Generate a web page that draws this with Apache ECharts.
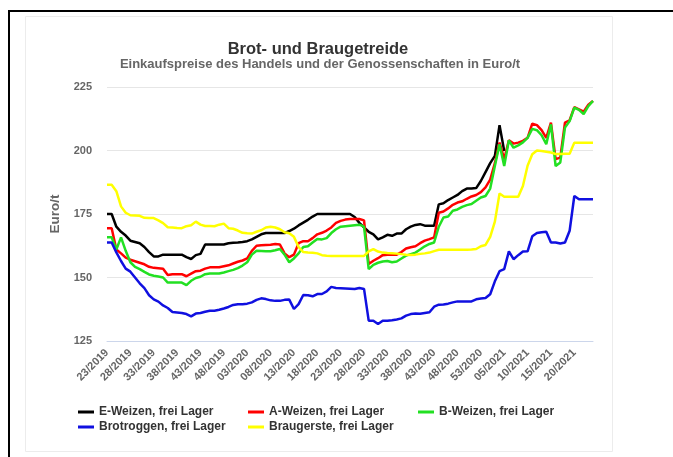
<!DOCTYPE html>
<html><head><meta charset="utf-8">
<script src="https://cdn.jsdelivr.net/npm/echarts@6/dist/echarts.min.js"></script>
<style>html,body{margin:0;padding:0;background:#fff;}#c{width:673px;height:457px;}</style>
</head><body><div id="c"></div>
<script>
const categories = [
"23/2019","24/2019","25/2019","26/2019","27/2019","28/2019","29/2019","30/2019","31/2019","32/2019",
"33/2019","34/2019","35/2019","36/2019","37/2019","38/2019","39/2019","40/2019","41/2019","42/2019",
"43/2019","44/2019","45/2019","46/2019","47/2019","48/2019","49/2019","50/2019","51/2019",
"02/2020","03/2020","04/2020","05/2020","06/2020","07/2020","08/2020","09/2020","10/2020","11/2020",
"12/2020","13/2020","14/2020","15/2020","16/2020","17/2020","18/2020","19/2020","20/2020","21/2020",
"22/2020","23/2020","24/2020","25/2020","26/2020","27/2020","28/2020","29/2020","30/2020","31/2020",
"32/2020","33/2020","34/2020","35/2020","36/2020","37/2020","38/2020","39/2020","40/2020","41/2020",
"42/2020","43/2020","44/2020","45/2020","46/2020","47/2020","48/2020","49/2020","50/2020","51/2020",
"52/2020","53/2020",
"01/2021","02/2021","03/2021","04/2021","05/2021","06/2021","07/2021","08/2021","09/2021","10/2021",
"11/2021","12/2021","13/2021","14/2021","15/2021","16/2021","17/2021","18/2021","19/2021","20/2021",
"21/2021","22/2021","23/2021","24/2021"];

const eWeizen = [
175,175,170,168,166.5,164.5,164,163.5,162,160,
158.3,158.3,159,159,159,159,159,158,157.3,158.8,
159.3,163,163,163,163,163,163.5,163.7,163.8,164,
164.3,165,166,167,167.5,167.5,167.5,167.5,167.5,168.3,
169.2,170.5,171.6,172.7,174,175,175,175,175,175,
175,175,175,173.8,171.5,169.7,168,167,165,165.8,
166.8,166.4,167.3,167.3,169,170,170.7,171,170.4,170.4,
170.4,178.8,179.2,180.5,181.5,182.5,184,185,185,185.2,
188,191.5,195,197.9,210,199.8,
null,null,null,null,null,null,null,null,null,null,
null,null,null,null,null,null,null,null,null];

const aWeizen = [
169.4,169.4,161,159.5,157.8,157,156.4,155.8,155.2,154.2,
153.8,153.6,153.4,151,151.3,151.3,151.3,150.5,151.5,152.5,
152.7,153.5,154,154,154,154.4,154.8,155.5,156.2,156.7,
157.5,160.5,162.5,162.7,162.8,162.9,163.2,163,159.5,158,
159,163.5,164.3,164.3,165.5,167,167.6,168.5,169.7,171.5,
172.3,172.8,173,173,173,172.5,155.3,156.6,157.6,158.8,
159,159,159,160,161.4,161.9,162.3,163.5,164.5,165.1,
165.8,175.5,176,177.2,178.6,179.5,180,181,181.9,182.5,
183.6,185.5,188.5,195,203.1,196.6,204,202.7,203.1,203.8,
205,210.6,210,208,205,211,196.6,197.2,211,211.9,
217.1,216.2,215.3,218,219.5];

const bWeizen = [
165.8,165.8,161,165.8,160.5,156,154.2,153.3,152.2,151.2,
150.7,150.4,150,148,148,148,148,147,148.7,149.8,
150.3,151.3,151.6,151.6,151.6,152,152.5,153,153.7,154.7,
156,159,160.5,160.4,160.3,160.3,160.7,161.2,159,156,
157.5,159.5,162,162.3,163.8,165.2,165,165.5,167.5,169,
170,170.2,170.4,170.6,170.8,170,153.3,155,155.8,156.3,
156.5,156,156.3,157.5,158.6,159.2,159.8,161,162.3,163.2,
163.8,170,173.6,174,176.3,176.8,177.8,178.5,178.9,180.2,
181.5,182.1,185,193.9,202.5,193.9,204,201.1,202,203.2,
205,208.5,208,206,202.5,210.3,193.9,195.3,209,211.6,
216.9,216,214.3,217.5,219.5];

const brotroggen = [
163.8,163.8,159.9,156.5,153.5,152.3,150,147.7,145.8,143,
141.4,140.5,139,138,136.4,136.2,136,135.6,134.7,135.8,
136,136.5,136.9,136.9,137.3,137.8,138.4,139.2,139.5,139.5,
139.7,140.2,141.2,141.8,141.5,141,140.8,140.8,141.2,141.3,
137.6,139.5,143.1,143,142.6,143.5,143.5,144.5,146.3,145.9,
145.8,145.7,145.6,145.5,145.9,145.5,133,133,131.7,133,
133,133.2,133.5,133.9,135,135.6,135.8,135.7,136,136.3,
138.5,139.3,139.4,139.7,140.2,140.6,140.6,140.6,140.6,141.4,
141.7,141.9,143.4,148.5,152.5,153.3,160.3,157.2,158.8,160.2,
160.3,166.2,167.5,167.8,168,163.8,163.8,163.4,163.8,168.4,
182.1,180.8,180.8,180.8,180.8];

const braugerste = [
186.5,186.5,184,178,175.5,174.5,174.4,174.3,173.5,173.4,
173.4,172.5,171.4,169.8,169.7,169.5,169.4,170.2,170.6,172,
170.8,170.3,170.3,170.2,170.8,171.2,169.4,169.2,168.5,167.6,
167.4,167.3,168,168.6,169.7,170,169.7,169,167.8,167.4,
166,162,160,159.8,159.7,159.5,158.8,158.6,158.5,158.5,
158.5,158.5,158.5,158.5,158.5,158.5,160.3,161.2,160.2,159.8,
159.6,159.5,159.4,159.2,159,158.9,159,159.3,159.5,159.8,
160.4,160.9,160.9,160.9,160.9,160.9,160.9,160.9,161,161.2,
162.3,162.8,166,172,183.1,181.8,181.8,181.8,181.8,186,
194,198.5,200,199.8,199.5,199.2,198.6,198.6,198.7,198.7,
203.1,203.1,203.1,203.1,203.1];

const yTicks = {min:125, max:225, step:25};
const titleText = 'Brot- und Braugetreide';
const subtitleText = 'Einkaufspreise des Handels und der Genossenschaften in Euro/t';
const yName = 'Euro/t';

const FONT = '"Liberation Sans", Arial, Helvetica, sans-serif';
const seriesDefs = [
  {name:'E-Weizen, frei Lager', data:eWeizen, color:'#000000', lx:78, ly:406},
  {name:'A-Weizen, frei Lager', data:aWeizen, color:'#ff0000', lx:248, ly:406},
  {name:'B-Weizen, frei Lager', data:bWeizen, color:'#22e022', lx:418, ly:406},
  {name:'Brotroggen, frei Lager', data:brotroggen, color:'#1010e0', lx:78, ly:421},
  {name:'Braugerste, frei Lager', data:braugerste, color:'#ffff00', lx:248, ly:421}
];

const chart = echarts.init(document.getElementById('c'), null, {renderer:'canvas'});
chart.setOption({
  animation:false,
  backgroundColor:'#ffffff',
  grid:{left:107, right:80, top:87, bottom:116},
  xAxis:{
    type:'category', data:categories, boundaryGap:false,
    axisLine:{lineStyle:{color:'#ccd6eb', width:1}},
    axisTick:{show:false},
    axisLabel:{interval:4, rotate:45, margin:10, color:'#666', fontSize:11, fontWeight:'bold', fontFamily:FONT}
  },
  yAxis:{
    type:'value', min:yTicks.min, max:yTicks.max, interval:yTicks.step,
    name:yName, nameLocation:'middle', nameGap:45,
    nameTextStyle:{color:'#666', fontSize:13.5, fontWeight:'bold', fontFamily:FONT},
    axisLine:{show:false}, axisTick:{show:false},
    axisLabel:{margin:15, color:'#666', fontSize:11, fontWeight:'bold', fontFamily:FONT},
    splitLine:{lineStyle:{color:'#e6e6e6', width:1}}
  },
  legend: seriesDefs.map(s => ({
    data:[s.name], left:s.lx, top:s.ly, icon:'rect', itemWidth:16, itemHeight:3,
    padding:0, itemGap:0, selectedMode:false,
    textStyle:{fontSize:12, fontWeight:'bold', color:'#333', fontFamily:FONT}
  })),
  graphic:[
    {type:'rect', silent:true, shape:{x:25.5, y:16.5, width:587, height:435}, style:{fill:'none', stroke:'#ececec', lineWidth:1}},
    {type:'rect', silent:true, shape:{x:8, y:10, width:665, height:2}, style:{fill:'#000'}},
    {type:'rect', silent:true, shape:{x:8, y:10, width:2, height:447}, style:{fill:'#000'}},
    {type:'text', silent:true, x:150.5, y:0.5, style:{text:'p', font:'bold 28px ' + FONT, fill:'#000', align:'left', verticalAlign:'bottom'}},
    {type:'text', silent:true, x:318, y:49, style:{text:titleText, font:'bold 16.5px ' + FONT, fill:'#333', align:'center', verticalAlign:'middle'}},
    {type:'text', silent:true, x:320, y:64.5, style:{text:subtitleText, font:'bold 13px ' + FONT, fill:'#666', align:'center', verticalAlign:'middle'}}
  ],
  series: seriesDefs.map(s => ({
    name:s.name, type:'line', data:s.data, color:s.color,
    showSymbol:false, symbol:'none', smooth:false,
    lineStyle:{width:2.5, color:s.color}
  }))
});
</script>
</body></html>
